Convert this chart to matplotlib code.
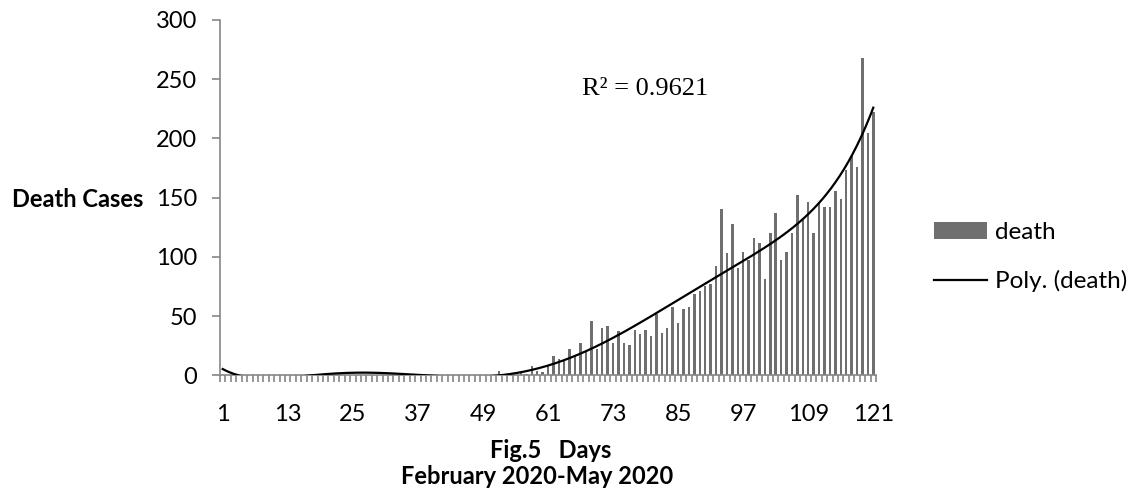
import numpy as np
import matplotlib
matplotlib.use("Agg")
import matplotlib.pyplot as plt
from matplotlib.patches import Patch
from matplotlib.lines import Line2D

# ---------------- data ----------------
days = list(range(1, 122))
deaths = [0] * 51 + [
    4, 0, 1, 0, 2, 1, 8, 4, 3, 9,          # 52-61
    16, 14, 12, 22, 16, 27, 20, 46, 22, 40,  # 62-71
    42, 27, 37, 27, 26, 38, 35, 38, 33, 52,  # 72-81
    36, 40, 58, 44, 56, 58, 69, 71, 75, 77,  # 82-91
    92, 140, 103, 128, 91, 104, 97, 116, 112, 81,   # 92-101
    120, 137, 97, 104, 120, 152, 131, 146, 120, 146,  # 102-111
    142, 142, 156, 149, 173, 185, 176, 268, 205, 222,  # 112-121
]
xtick_labels = [1, 13, 25, 37, 49, 61, 73, 85, 97, 109, 121]
yticks = [0, 50, 100, 150, 200, 250, 300]
r2_text = "R² = 0.9621"
poly_order = 6

# ---------------- figure ----------------
W, H = 1137, 497
fig = plt.figure(figsize=(W / 100, H / 100), dpi=100)
L, R, T, B = 220, 876, 20, 375.3
ax = fig.add_axes([L / W, 1 - B / H, (R - L) / W, (B - T) / H])

FONT = "Lato"
FS = 17
bar_color = "#6f6f6f"
axis_color = "#868686"

x = np.array(days, dtype=float)
y = np.array(deaths, dtype=float)
ax.bar(x, y, width=0.45, color=bar_color, zorder=2)

fit = np.polynomial.Polynomial.fit(x, y, poly_order)
xs = np.linspace(x.min(), x.max(), 600)
ax.plot(xs, fit(xs), color="black", lw=1.6, zorder=3)

ax.set_xlim(0.5, 121.5)
ax.set_ylim(0, 300)
ax.set_yticks(yticks)
ax.set_yticklabels([str(v) for v in yticks], fontfamily=FONT, fontsize=FS)
ax.set_xticks(xtick_labels)
ax.set_xticklabels([str(v) for v in xtick_labels], fontfamily=FONT, fontsize=FS)
ax.set_xticks(np.arange(0.5, 122, 1.0), minor=True)

for s in ["top", "right"]:
    ax.spines[s].set_visible(False)
for s in ["left", "bottom"]:
    ax.spines[s].set_color(axis_color)
    ax.spines[s].set_linewidth(1.2)

ax.tick_params(axis="y", which="major", length=5.5, width=1.2, color=axis_color, pad=11)
ax.tick_params(axis="x", which="major", length=0, pad=21)
ax.tick_params(axis="x", which="minor", length=5, width=1.2, color=axis_color)

# axis titles
fig.text(143 / W, 1 - 199 / H, "Death Cases", ha="right", va="center",
         fontfamily=FONT, fontweight="bold", fontsize=FS)
fig.text(551 / W, 1 - 451 / H, "Fig.5   Days", ha="center", va="center",
         fontfamily=FONT, fontweight="bold", fontsize=FS)
fig.text(537 / W, 1 - 477 / H, "February 2020-May 2020", ha="center", va="center",
         fontfamily=FONT, fontweight="bold", fontsize=FS)

# R squared annotation
fig.text(645 / W, 1 - 89 / H, r2_text, ha="center", va="center",
         fontfamily="Liberation Serif", fontsize=19)

# legend
handles = [Patch(facecolor=bar_color, edgecolor="none"),
           Line2D([0], [0], color="black", lw=1.6)]
leg = fig.legend(handles, ["death", "Poly. (death)"],
                 loc="upper left", bbox_to_anchor=(934 / W, 1 - 222 / H),
                 frameon=False, prop={"family": FONT, "size": 17.5},
                 handlelength=2.2, handleheight=0.65, handletextpad=0.3,
                 labelspacing=1.1, borderpad=0, borderaxespad=0)

fig.savefig("out.png", dpi=100)
